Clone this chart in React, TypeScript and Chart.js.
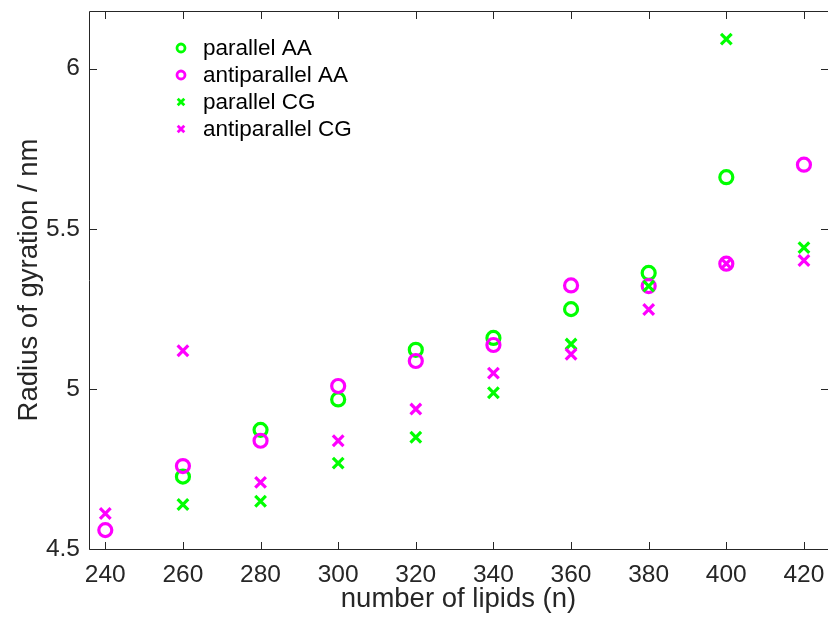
import React, { useEffect, useRef } from "react";
import { Chart, registerables } from "chart.js";

Chart.register(...registerables);

const lipids = [240, 260, 280, 300, 320, 340, 360, 380, 400, 420];
const parallelAA = [null, 4.726, 4.872, 4.967, 5.122, 5.159, 5.249, 5.362, 5.661, null];
const antiparallelAA = [4.559, 4.759, 4.838, 5.009, 5.087, 5.137, 5.323, 5.321, 5.391, 5.7];
const parallelCG = [null, 4.639, 4.649, 4.768, 4.849, 4.988, 5.14, 5.321, 6.092, 5.441];
const antiparallelCG = [4.611, 5.119, 4.708, 4.838, 4.937, 5.049, 5.108, 5.248, 5.391, 5.401];

const seriesNames = ["parallel AA", "antiparallel AA", "parallel CG", "antiparallel CG"];
const xTicks = [240, 260, 280, 300, 320, 340, 360, 380, 400, 420];
const yTicks = [4.5, 5, 5.5, 6];

const GREEN = "#00ff00";
const MAGENTA = "#ff00ff";
const AXIS = "#262626";
const FONT = "'Liberation Sans', Arial, Helvetica, sans-serif";

const framePlugin = {
  id: "frame",
  afterDraw(chart: any) {
    const { ctx, chartArea } = chart;
    const { left, right, top, bottom } = chartArea;
    const xs = chart.scales.x;
    const ys = chart.scales.y;
    const tl = 7.5;
    ctx.save();
    ctx.strokeStyle = AXIS;
    ctx.lineWidth = 1;
    ctx.beginPath();
    const L = Math.floor(left) + 0.5;
    const R = Math.floor(right) + 0.5;
    const T = Math.floor(top) + 0.5;
    const B = Math.floor(bottom) + 0.5;
    ctx.moveTo(L, T);
    ctx.lineTo(R, T);
    ctx.lineTo(R, B);
    ctx.lineTo(L, B);
    ctx.closePath();
    xs.ticks.forEach((t: any) => {
      const px = Math.round(xs.getPixelForValue(t.value)) + 0.5;
      ctx.moveTo(px, B);
      ctx.lineTo(px, B - tl);
      ctx.moveTo(px, T);
      ctx.lineTo(px, T + tl);
    });
    ys.ticks.forEach((t: any) => {
      const py = Math.round(ys.getPixelForValue(t.value)) + 0.5;
      ctx.moveTo(L, py);
      ctx.lineTo(L + tl, py);
      ctx.moveTo(R, py);
      ctx.lineTo(R - tl, py);
    });
    ctx.stroke();

    // legend
    const lx = 181;
    const tx = 203;
    const rows = [48, 75, 102, 129];
    const colors = [GREEN, MAGENTA, GREEN, MAGENTA];
    const shapes = ["circle", "circle", "cross", "cross"];
    ctx.font = `22.5px ${FONT}`;
    ctx.textBaseline = "middle";
    ctx.textAlign = "left";
    seriesNames.forEach((name, i) => {
      const y = rows[i];
      ctx.strokeStyle = colors[i];
      ctx.lineWidth = 2.8;
      ctx.beginPath();
      if (shapes[i] === "circle") {
        ctx.arc(lx, y, 4, 0, Math.PI * 2);
      } else {
        const h = 3.3;
        ctx.moveTo(lx - h, y - h);
        ctx.lineTo(lx + h, y + h);
        ctx.moveTo(lx + h, y - h);
        ctx.lineTo(lx - h, y + h);
      }
      ctx.stroke();
      ctx.fillStyle = "#000";
      ctx.fillText(name, tx, y + 1);
    });
    ctx.restore();
  },
};

export default function App() {
  const ref = useRef<HTMLCanvasElement | null>(null);

  useEffect(() => {
    if (!ref.current) return;
    const mk = (arr: (number | null)[]) => lipids.map((x, i) => ({ x, y: arr[i] }));
    const chart = new Chart(ref.current, {
      type: "scatter",
      data: {
        datasets: [
          {
            label: seriesNames[0],
            data: mk(parallelAA),
            pointStyle: "circle",
            pointRadius: 6.5,
            borderWidth: 3.2,
            borderColor: GREEN,
            backgroundColor: "rgba(0,0,0,0)",
            order: 4,
          },
          {
            label: seriesNames[1],
            data: mk(antiparallelAA),
            pointStyle: "circle",
            pointRadius: 6.5,
            borderWidth: 3.2,
            borderColor: MAGENTA,
            backgroundColor: "rgba(0,0,0,0)",
            order: 3,
          },
          {
            label: seriesNames[2],
            data: mk(parallelCG),
            pointStyle: "crossRot",
            pointRadius: 7.5,
            borderWidth: 3.2,
            borderColor: GREEN,
            backgroundColor: GREEN,
            order: 2,
          },
          {
            label: seriesNames[3],
            data: mk(antiparallelCG),
            pointStyle: "crossRot",
            pointRadius: 7.5,
            borderWidth: 3.2,
            borderColor: MAGENTA,
            backgroundColor: MAGENTA,
            order: 1,
          },
        ] as any,
      },
      options: {
        responsive: false,
        animation: false,
        devicePixelRatio: 1,
        layout: { autoPadding: false, padding: { top: 11, right: 0, bottom: 0, left: 0 } },
        plugins: {
          legend: { display: false },
          tooltip: { enabled: false },
        },
        scales: {
          x: {
            type: "linear",
            min: 235.8,
            max: 426.2,
            grid: { display: false, drawTicks: false },
            border: { display: false },
            afterBuildTicks: (s: any) => {
              s.ticks = xTicks.map((v) => ({ value: v }));
            },
            afterFit: (s: any) => {
              s.height = 76;
              s.paddingLeft = 0;
              s.paddingRight = 0;
            },
            ticks: {
              color: AXIS,
              font: { family: FONT, size: 24.5 },
              padding: 12,
              maxRotation: 0,
              autoSkip: false,
              callback: (v: any) => String(v),
            },
            title: {
              display: true,
              text: "number of lipids (n)",
              color: AXIS,
              font: { family: FONT, size: 27.5 },
              padding: { top: 0, bottom: 9 },
            },
          },
          y: {
            type: "linear",
            min: 4.5,
            max: 6.18,
            grid: { display: false, drawTicks: false },
            border: { display: false },
            afterBuildTicks: (s: any) => {
              s.ticks = yTicks.map((v) => ({ value: v }));
            },
            afterFit: (s: any) => {
              s.width = 89;
              s.paddingTop = 0;
              s.paddingBottom = 0;
            },
            ticks: {
              color: AXIS,
              font: { family: FONT, size: 24.5 },
              padding: 9,
              autoSkip: false,
              callback: (v: any) => String(v),
            },
            title: {
              display: true,
              text: "Radius of gyration / nm",
              color: AXIS,
              font: { family: FONT, size: 27.5 },
              padding: { top: 13, bottom: 0 },
            },
          },
        },
      },
      plugins: [framePlugin],
    });
    return () => chart.destroy();
  }, []);

  return (
    <div style={{ position: "absolute", left: 0, top: 0, width: 828, height: 625, background: "#fff" }}>
      <canvas ref={ref} width={828} height={625} style={{ width: 828, height: 625, display: "block" }} />
    </div>
  );
}
